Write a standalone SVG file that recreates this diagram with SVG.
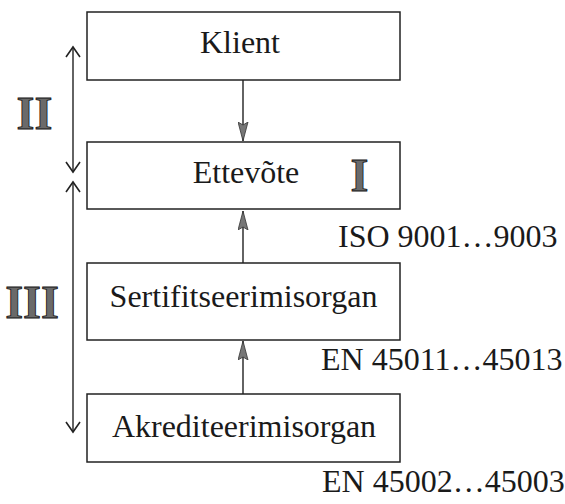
<svg xmlns="http://www.w3.org/2000/svg" width="565" height="504" viewBox="0 0 565 504">
<defs>
<style>
.box{fill:#fff;stroke:#222;stroke-width:1.5}
.t{font-family:"Liberation Serif","Times New Roman",serif;font-size:32px;fill:#1a1a1a}
.big{font-family:"Liberation Serif","Times New Roman",serif;font-weight:bold;font-size:46px;fill:#6a6a6a;stroke:#111;stroke-width:0.8}
.ln{stroke:#222;stroke-width:1.4;fill:none}
.open{stroke:#222;stroke-width:1.6;fill:none}
</style>
<marker id="ah" viewBox="0 0 19 11" refX="19" refY="5.5" markerWidth="19" markerHeight="11" markerUnits="userSpaceOnUse" orient="auto">
<path d="M0,0.5 L19,5.5 L0,10.5 L3,5.5 Z" fill="#777" stroke="#333" stroke-width="0.8"/>
</marker>
</defs>
<rect width="565" height="504" fill="#fff"/>
<g id="klient"><rect class="box" x="87" y="12" width="313" height="68"/><text class="t" x="240" y="53" text-anchor="middle">Klient</text></g>
<g id="ettevote"><rect class="box" x="87" y="142" width="313" height="67"/><text class="t" x="246" y="183" text-anchor="middle">Ettevõte</text><text class="big" x="359.5" y="191" text-anchor="middle">I</text></g>
<g id="sertifitseerimisorgan"><rect class="box" x="87" y="263" width="313" height="77"/><text class="t" x="243.5" y="307" text-anchor="middle">Sertifitseerimisorgan</text></g>
<g id="akrediteerimisorgan"><rect class="box" x="87" y="394" width="313" height="68"/><text class="t" x="244" y="437" text-anchor="middle">Akrediteerimisorgan</text></g>
<g id="labels">
<text class="t" x="338" y="247">ISO 9001…9003</text>
<text class="t" x="321" y="370">EN 45011…45013</text>
<text class="t" x="322" y="492">EN 45002…45003</text>
<text class="big" x="34.5" y="129" text-anchor="middle">II</text>
<text class="big" x="32" y="318" text-anchor="middle">III</text>
</g>
<g id="connectors">
<line class="ln" x1="243" y1="80" x2="243" y2="141" marker-end="url(#ah)"/>
<line class="ln" x1="243" y1="263" x2="243" y2="211" marker-end="url(#ah)"/>
<line class="ln" x1="243" y1="394" x2="243" y2="341" marker-end="url(#ah)"/>
<line class="ln" x1="73" y1="48" x2="73" y2="171"/>
<path class="open" d="M66,57 L73,47 L80,57 M66,162 L73,172 L80,162"/>
<line class="ln" x1="73" y1="183" x2="73" y2="431"/>
<path class="open" d="M66,192 L73,182 L80,192 M66,422 L73,432 L80,422"/>
</g>
</svg>
